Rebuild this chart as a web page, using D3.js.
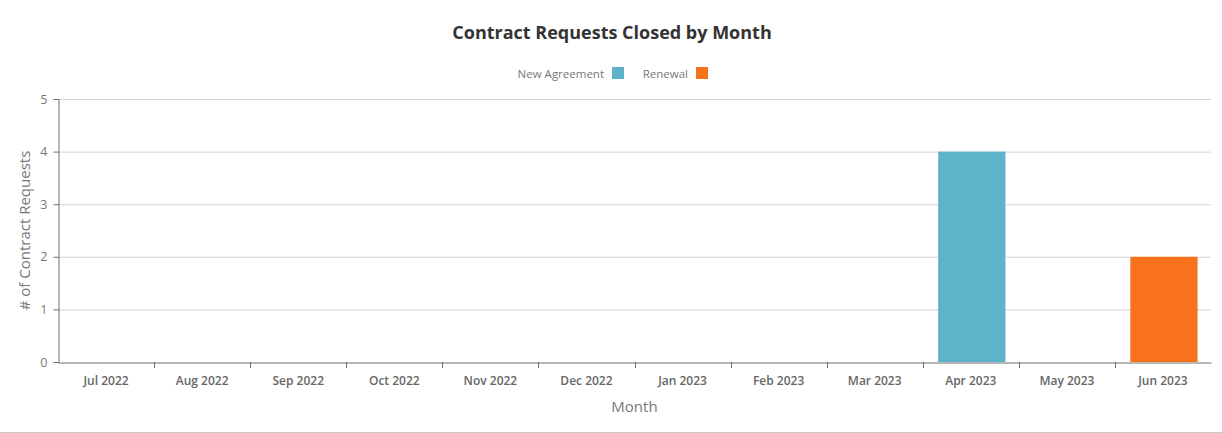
<!DOCTYPE html>
<html>
<head>
<meta charset="utf-8">
<script src="https://cdn.jsdelivr.net/npm/d3@7"></script>
<style>
  body { margin: 0; background: #fff; font-family: "Open Sans", sans-serif; }
  svg { display: block; }
</style>
</head>
<body>
<svg id="chart" width="1222" height="433"></svg>
<script>
// --- datos ---
const months = ["Jul 2022", "Aug 2022", "Sep 2022", "Oct 2022", "Nov 2022", "Dec 2022",
                "Jan 2023", "Feb 2023", "Mar 2023", "Apr 2023", "May 2023", "Jun 2023"];
const newAgreement = [0, 0, 0, 0, 0, 0, 0, 0, 0, 4, 0, 0];
const renewal      = [0, 0, 0, 0, 0, 0, 0, 0, 0, 0, 0, 2];
const seriesNames = ["New Agreement", "Renewal"];
const seriesColors = ["#5eb3cb", "#f7721b"];
const yTicks = [0, 1, 2, 3, 4, 5];

const width = 1222, height = 433;
const margin = {top: 99, right: 11, bottom: 71, left: 58};

const svg = d3.select("#chart");

const rows = months.map((m, i) => ({month: m, "New Agreement": newAgreement[i], "Renewal": renewal[i]}));
const stacked = d3.stack().keys(seriesNames)(rows);

const x = d3.scaleBand()
    .domain(months)
    .range([margin.left, width - margin.right])
    .paddingInner(0.3)
    .paddingOuter(0.15);

const xBand = d3.scaleBand()
    .domain(months)
    .range([margin.left, width - margin.right]);

const y = d3.scaleLinear()
    .domain([0, 5])
    .range([height - margin.bottom, margin.top]);

// --- rejilla ---
svg.append("g")
    .selectAll("line")
    .data(yTicks.slice(1))
    .join("line")
    .attr("x1", margin.left)
    .attr("x2", width - margin.right)
    .attr("y1", d => y(d) + 0.5)
    .attr("y2", d => y(d) + 0.5)
    .attr("stroke", "#d4d4d4");

// --- barras ---
svg.append("g")
    .selectAll("g")
    .data(stacked)
    .join("g")
    .attr("fill", (d, i) => seriesColors[i])
    .selectAll("rect")
    .data(d => d.filter(s => s[1] - s[0] > 0))
    .join("rect")
    .attr("x", d => x(d.data.month) + 1)
    .attr("width", x.bandwidth())
    .attr("y", d => y(d[1]))
    .attr("height", d => y(d[0]) - y(d[1]));

// --- ejes ---
const axisColor = "#6e6e6e";

const yAxis = svg.append("g")
    .attr("transform", `translate(${margin.left + 0.5},0)`)
    .call(d3.axisLeft(y).tickValues(yTicks).tickFormat(d3.format("d")).tickSize(5).tickPadding(6));
yAxis.select(".domain").attr("stroke", axisColor);
yAxis.selectAll(".tick line").attr("stroke", axisColor);
yAxis.selectAll(".tick text")
    .attr("fill", "#777")
    .style("font-size", "12.5px")
    .style("font-family", "'Open Sans', sans-serif");

const xAxis = svg.append("g")
    .attr("transform", `translate(0,${height - margin.bottom + 0.5})`)
    .call(d3.axisBottom(xBand).tickSize(0).tickPadding(14).tickSizeOuter(0));
xAxis.select(".domain").attr("stroke", axisColor);
xAxis.selectAll(".tick text")
    .attr("fill", "#666")
    .style("font-size", "12px")
    .style("font-weight", "600")
    .style("font-family", "'Open Sans', sans-serif");

// marcas entre categorías
svg.append("g")
    .selectAll("line")
    .data(months.slice(1))
    .join("line")
    .attr("x1", d => Math.round(xBand(d)) + 0.5)
    .attr("x2", d => Math.round(xBand(d)) + 0.5)
    .attr("y1", height - margin.bottom)
    .attr("y2", height - margin.bottom + 6)
    .attr("stroke", axisColor);

// --- títulos ---
svg.append("text")
    .attr("x", width / 2 + 1)
    .attr("y", 39)
    .attr("text-anchor", "middle")
    .attr("fill", "#333")
    .style("font-size", "18px")
    .style("font-weight", "700")
    .text("Contract Requests Closed by Month");

svg.append("text")
    .attr("x", (margin.left + width - margin.right) / 2)
    .attr("y", 412)
    .attr("text-anchor", "middle")
    .attr("fill", "#777")
    .style("font-size", "15px")
    .text("Month");

svg.append("text")
    .attr("transform", `translate(30,${(margin.top + height - margin.bottom) / 2}) rotate(-90)`)
    .attr("text-anchor", "middle")
    .attr("fill", "#777")
    .style("font-size", "15px")
    .text("# of Contract Requests");

// --- leyenda ---
const legendItems = [
    {name: seriesNames[0], textEnd: 604, sw: 612},
    {name: seriesNames[1], textEnd: 688, sw: 696}
];
const legend = svg.append("g");
legendItems.forEach((d, i) => {
    legend.append("text")
        .attr("x", d.textEnd)
        .attr("y", 78)
        .attr("text-anchor", "end")
        .attr("fill", "#777")
        .style("font-size", "11.5px")
        .text(d.name);
    legend.append("rect")
        .attr("x", d.sw)
        .attr("y", 67)
        .attr("width", 12)
        .attr("height", 12)
        .attr("fill", seriesColors[i]);
});

// borde inferior
svg.append("line")
    .attr("x1", 0).attr("x2", width)
    .attr("y1", 432.5).attr("y2", 432.5)
    .attr("stroke", "#c8c8c8");
</script>
</body>
</html>
